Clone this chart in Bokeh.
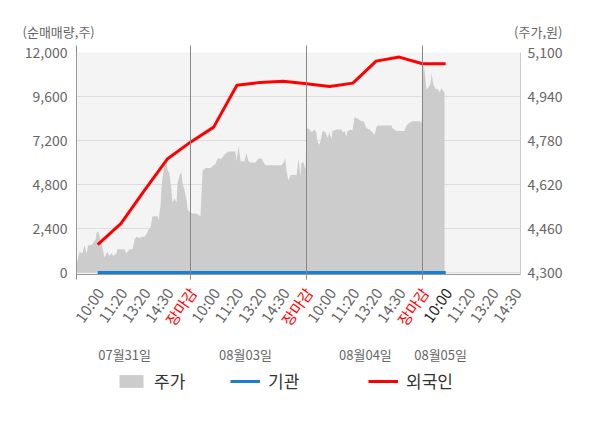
import math
from bokeh.plotting import figure
from bokeh.layouts import column
from bokeh.models import (Range1d, LinearAxis, FixedTicker, NumeralTickFormatter,
                          CustomJSTickFormatter, Legend, LegendItem)
from bokeh.core.properties import value
from bokeh.embed import file_html
from bokeh.resources import INLINE

FONT = "Noto Sans CJK KR"
NAN = float("nan")

# ---------------- data ----------------
time_labels = ["10:00", "11:20", "13:20", "14:30", "장마감",
               "10:00", "11:20", "13:20", "14:30", "장마감",
               "10:00", "11:20", "13:20", "14:30", "장마감",
               "10:00", "11:20", "13:20", "14:30"]
label_slots = list(range(1, len(time_labels) + 1))
day_close_slots = [5, 10, 15]
date_labels = ["07월31일", "08월03일", "08월04일", "08월05일"]
date_label_slots = [2.16, 7.37, 12.54, 15.78]

# stock price (주가, 원) on time slot positions
price_x = [0.09, 0.22, 0.34, 0.43, 0.52, 0.60, 0.73, 0.82, 0.91, 0.95, 1.03, 1.12, 1.21,
           1.29, 1.38, 1.42, 1.51, 1.59, 1.68, 1.81, 1.85, 2.03, 2.16, 2.24, 2.37, 2.50,
           2.59, 2.67, 2.80, 2.89, 3.02, 3.10, 3.15, 3.28, 3.36, 3.58, 3.62, 3.71, 3.75,
           3.84, 3.97, 4.01, 4.09, 4.18, 4.22, 4.31, 4.40, 4.44, 4.53, 4.61, 4.66, 4.74,
           4.83, 4.87, 4.96,
           5.09, 5.26, 5.43, 5.52, 5.65, 5.86, 5.99, 6.08, 6.16, 6.34, 6.47, 6.64, 6.85,
           6.94, 6.98, 7.07, 7.16, 7.33, 7.41, 7.50, 7.59, 7.80, 7.93, 8.06, 8.15, 8.23,
           8.92, 9.01, 9.09, 9.14, 9.22, 9.31, 9.57, 9.66, 9.74, 9.78, 9.87, 9.96,
           10.00, 10.04, 10.13, 10.22, 10.34, 10.43, 10.47, 10.56, 10.65, 10.69, 10.82,
           10.91, 10.99, 11.08, 11.12, 11.29, 11.51, 11.55, 11.64, 11.72, 11.77, 11.94,
           11.98, 12.07, 12.20, 12.37, 12.46, 12.59, 12.72, 12.84, 12.93, 13.02, 13.06,
           13.36, 13.49, 13.66, 13.71, 13.88, 14.22, 14.31, 14.44, 14.57, 14.87, 14.96,
           15.04, 15.09, 15.17, 15.26, 15.34, 15.39, 15.47, 15.52, 15.60, 15.65, 15.73,
           15.82, 15.86, 15.95]
price = [4330, 4375, 4370, 4400, 4370, 4400, 4400, 4410, 4420, 4445, 4450, 4420, 4390,
         4355, 4370, 4375, 4360, 4370, 4360, 4370, 4385, 4385, 4385, 4370, 4385, 4385,
         4420, 4430, 4425, 4430, 4430, 4440, 4450, 4465, 4505, 4505, 4490, 4545, 4610,
         4675, 4700, 4675, 4660, 4600, 4555, 4570, 4555, 4625, 4655, 4665, 4625, 4600,
         4565, 4530, 4520,
         4515, 4515, 4505, 4670, 4680, 4680, 4690, 4695, 4715, 4715, 4730, 4740, 4740,
         4740, 4705, 4760, 4705, 4705, 4735, 4705, 4700, 4700, 4715, 4715, 4700, 4690,
         4690, 4700, 4715, 4670, 4635, 4655, 4655, 4715, 4650, 4700, 4700, 4675,
         4830, 4825, 4820, 4810, 4820, 4810, 4775, 4765, 4795, 4815, 4810,
         4790, 4810, 4785, 4815, 4820, 4820, 4810, 4815, 4795, 4815, 4820,
         4815, 4865, 4860, 4850, 4850, 4825, 4820, 4810, 4800, 4830, 4835,
         4835, 4835, 4835, 4825, 4815, 4815, 4835, 4845, 4850, 4850, 4845,
         5060, 5035, 4965, 4975, 4985, 5025, 4985, 4975, 4965, 4970, 4955,
         4970, 4965, 4955]

# net buying volume (순매매량, 주) at slots 1..16
flow_slots = list(range(1, 17))
institution = [0] * 16
foreign = [1520, 2660, 4450, 6190, 7110, 7930, 10210, 10370, 10430, 10300,
           10150, 10330, 11530, 11750, 11390, 11390]

left_ticks = [0, 2400, 4800, 7200, 9600, 12000]
right_ticks = [4300, 4460, 4620, 4780, 4940, 5100]

# ---------------- layout constants ----------------
W = 592
BL, BR = 76, 72
FW = W - BL - BR          # frame width 444
FH = 222                  # frame height (220 px of value range + 2 px padding below zero)
PAD = 2 / 220             # fraction of the value range below the zero line
x_start, x_end = 0.0862, 19.224
per_px = (x_end - x_start) / FW
full_x = (x_start - BL * per_px, x_end + BR * per_px)
left_lo = left_ticks[0] - PAD * (left_ticks[-1] - left_ticks[0])
right_lo = right_ticks[0] - PAD * (right_ticks[-1] - right_ticks[0])


def no_align(f):
    try:
        f.frame_align = False
    except AttributeError:
        pass


def blank(height, y_top_down):
    f = figure(width=W, height=height, x_range=Range1d(*full_x),
               y_range=Range1d(*y_top_down), min_border=0,
               x_axis_location=None, y_axis_location=None,
               output_backend="svg", toolbar_location=None,
               outline_line_color=None, background_fill_color="white",
               border_fill_color="white")
    f.xgrid.visible = False
    f.ygrid.visible = False
    no_align(f)
    return f


# ---------------- top strip: axis titles ----------------
p0 = blank(41, (41, 0))
p0.text(x=[-2.24], y=[31], text=["(순매매량,주)"], text_align="left",
        text_baseline="middle", text_font=value(FONT), text_font_size=value("13px"),
        text_color="#666666")
p0.text(x=[21.03], y=[31], text=["(주가,원)"], text_align="right",
        text_baseline="middle", text_font=value(FONT), text_font_size=value("13px"),
        text_color="#666666")

# ---------------- main chart ----------------
p = figure(frame_width=FW, frame_height=FH,
           min_border_left=BL, min_border_right=BR, min_border_top=11, min_border_bottom=10,
           x_range=Range1d(x_start, x_end), y_range=Range1d(left_lo, left_ticks[-1]),
           output_backend="svg", toolbar_location=None,
           background_fill_color="#f4f4f4", border_fill_color="white",
           outline_line_color=None)
no_align(p)
p.extra_y_ranges = {"price": Range1d(right_lo, right_ticks[-1])}

area = p.varea(x=price_x, y1=[right_ticks[0]] * len(price), y2=price, y_range_name="price",
               fill_color="#cccccc")
inst_r = p.line(flow_slots, institution, line_color="#1b7fcc", line_width=3)
fore_r = p.line(flow_slots, foreign, line_color="#ff0000", line_width=3)

ya = p.yaxis[0]
ya.ticker = FixedTicker(ticks=left_ticks)
ya.formatter = NumeralTickFormatter(format="0,0")
ya.axis_line_color = "#999999"
ya.major_tick_out = 0
ya.major_tick_in = 0
ya.minor_tick_out = 0
ya.minor_tick_in = 0
ya.major_label_text_font = FONT
ya.major_label_text_font_size = "14px"
ya.major_label_text_color = "#666666"
ya.major_label_standoff = 9

ra = LinearAxis(y_range_name="price", ticker=FixedTicker(ticks=right_ticks),
                formatter=NumeralTickFormatter(format="0,0"))
ra.axis_line_color = "#cccccc"
ra.major_tick_out = 0
ra.major_tick_in = 0
ra.minor_tick_out = 0
ra.minor_tick_in = 0
ra.major_label_text_font = FONT
ra.major_label_text_font_size = "14px"
ra.major_label_text_color = "#666666"
ra.major_label_standoff = 7
p.add_layout(ra, "right")

xa = p.xaxis[0]
xa.ticker = FixedTicker(ticks=[x_start] + day_close_slots)
xa.formatter = CustomJSTickFormatter(code="return ''")
xa.major_label_text_font_size = "0px"
xa.major_label_standoff = 0
xa.axis_line_color = "#999999"
xa.major_tick_line_color = "#888888"
xa.major_tick_in = FH + 7
xa.major_tick_out = 5
xa.minor_tick_in = 0
xa.minor_tick_out = 0

p.xgrid.visible = False
p.ygrid.ticker = FixedTicker(ticks=left_ticks)
p.ygrid.grid_line_color = "#dddddd"

# ---------------- bottom strip: time labels, dates, legend ----------------
p2 = blank(140, (140, 0))
label_colors = ["#ff0000" if t == "장마감" else ("#222222" if s == 16 else "#666666")
                for s, t in zip(label_slots, time_labels)]
p2.text(x=label_slots, y=[5] * len(label_slots), text=time_labels,
        angle=math.radians(55), x_offset=2, text_align="right", text_baseline="middle",
        text_font=value(FONT), text_font_size=value("15px"), text_color=label_colors)
p2.text(x=date_label_slots, y=[70] * len(date_label_slots), text=date_labels,
        text_align="center", text_baseline="middle", text_font=value(FONT),
        text_font_size=value("13px"), text_color="#666666")

# legend-only renderers (no visible data)
leg_area = p2.varea(x=[NAN], y1=[NAN], y2=[NAN], fill_color="#cccccc")
leg_inst = p2.line(x=[NAN], y=[NAN], line_color="#1b7fcc", line_width=3)
leg_fore = p2.line(x=[NAN], y=[NAN], line_color="#ff0000", line_width=3)


def make_legend(label, rend, loc):
    lg = Legend(items=[LegendItem(label=label, renderers=[rend])], location=loc,
                background_fill_alpha=0, border_line_alpha=0, padding=0, margin=0,
                spacing=0, glyph_width=30, glyph_height=16, label_standoff=8,
                label_height=16, label_text_font=FONT, label_text_font_size="17px",
                label_text_color="#333333", label_text_baseline="middle")
    p2.add_layout(lg, "center")


make_legend("주가", leg_area, (116, 31))
make_legend("기관", leg_inst, (230, 31))
make_legend("외국인", leg_fore, (368, 31))

layout = column(p0, p, p2, spacing=0)
open("out.html", "w").write(file_html(layout, INLINE))
